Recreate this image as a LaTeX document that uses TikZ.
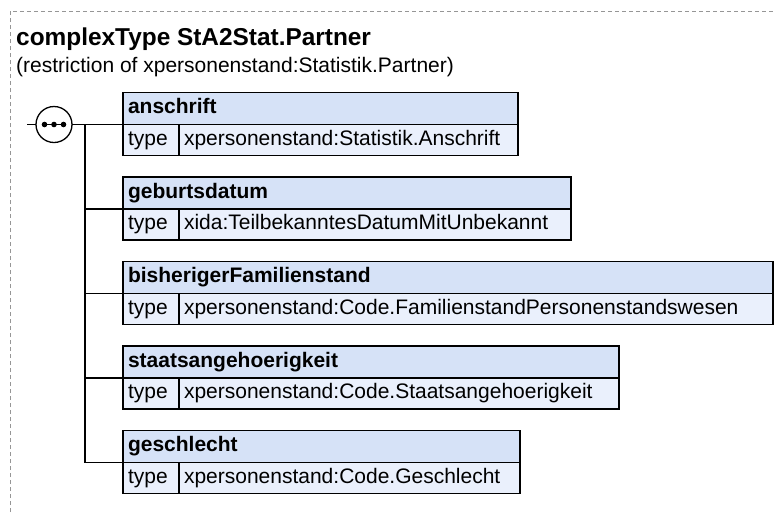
\documentclass[tikz,border=0pt]{standalone}
\usepackage{fontspec}
\setmainfont{Liberation Sans}
\definecolor{hdrc}{RGB}{214,226,247}
\definecolor{rowc}{RGB}{234,240,252}
\definecolor{framec}{RGB}{150,150,150}
\begin{document}
\begin{tikzpicture}[x=1pt,y=-1pt,
  hdr/.style={draw, line width=1.3pt, fill=hdrc, anchor=north west, minimum height=32pt,
    inner xsep=5pt, inner ysep=0pt, outer sep=0pt, text height=15pt, text depth=4.5pt, align=left,
    font=\fontsize{21}{25}\selectfont\bfseries, text width=#1},
  cellbox/.style={draw, line width=1.3pt, fill=rowc, anchor=north west, minimum height=31pt,
    inner xsep=5pt, inner ysep=0pt, outer sep=0pt, text height=15pt, text depth=4.5pt, align=left,
    font=\fontsize{21}{25}\selectfont, text width=#1},
  conn/.style={line width=1.3pt},
]
\useasboundingbox (0,0) rectangle (774,512);
\draw[framec, dash pattern=on 4pt off 3pt, line width=0.8pt] (10,512) -- (10,11) -- (774,11);

\node[anchor=base west, inner sep=0pt, font=\fontsize{24.4}{29}\selectfont\bfseries] (title) at (16,45) {complexType StA2Stat.Partner};
\node[anchor=base west, inner sep=0pt, font=\fontsize{21}{25}\selectfont] (sub) at (16,72.5) {(restriction of xpersonenstand:Statistik.Partner)};

% boxes
\node[hdr=385pt] (h1) at (123,92.5) {anschrift};
\node[cellbox=46pt] (t1) at (h1.south west) {type};
\node[cellbox=329pt] (v1) at (t1.north east) {xpersonenstand:Statistik.Anschrift};

\node[hdr=438pt] (h2) at (123,177) {geburtsdatum};
\node[cellbox=46pt] (t2) at (h2.south west) {type};
\node[cellbox=382pt] (v2) at (t2.north east) {xida:TeilbekanntesDatumMitUnbekannt};

\node[hdr=640pt] (h3) at (123,261.5) {bisherigerFamilienstand};
\node[cellbox=46pt] (t3) at (h3.south west) {type};
\node[cellbox=584pt] (v3) at (t3.north east) {xpersonenstand:Code.FamilienstandPersonenstandswesen};

\node[hdr=486pt] (h4) at (123,346) {staatsangehoerigkeit};
\node[cellbox=46pt] (t4) at (h4.south west) {type};
\node[cellbox=430pt] (v4) at (t4.north east) {xpersonenstand:Code.Staatsangehoerigkeit};

\node[hdr=387pt] (h5) at (123,430.5) {geschlecht};
\node[cellbox=46pt] (t5) at (h5.south west) {type};
\node[cellbox=331pt] (v5) at (t5.north east) {xpersonenstand:Code.Geschlecht};

% sequence compositor
\node[circle, draw, line width=1.3pt, fill=white, minimum size=36pt, inner sep=0pt, outer sep=0pt] (seq) at (54,124.5) {};
\draw[conn] ([xshift=-9.5pt]seq.center) -- ([xshift=9.5pt]seq.center);
\fill ([xshift=-9.5pt]seq.center) circle (2.8pt);
\fill (seq.center) circle (2.8pt);
\fill ([xshift=9.5pt]seq.center) circle (2.8pt);

\coordinate (stub) at (27,124.5);
\coordinate (vtop) at (85,124.5);
\draw[conn] (stub) -- (seq.west);
\draw[conn] (seq.east) -- (h1.south west);
\draw[conn] (vtop) |- (h5.south west);
\draw[conn] (vtop |- h2.south west) -- (h2.south west);
\draw[conn] (vtop |- h3.south west) -- (h3.south west);
\draw[conn] (vtop |- h4.south west) -- (h4.south west);
\end{tikzpicture}
\end{document}
